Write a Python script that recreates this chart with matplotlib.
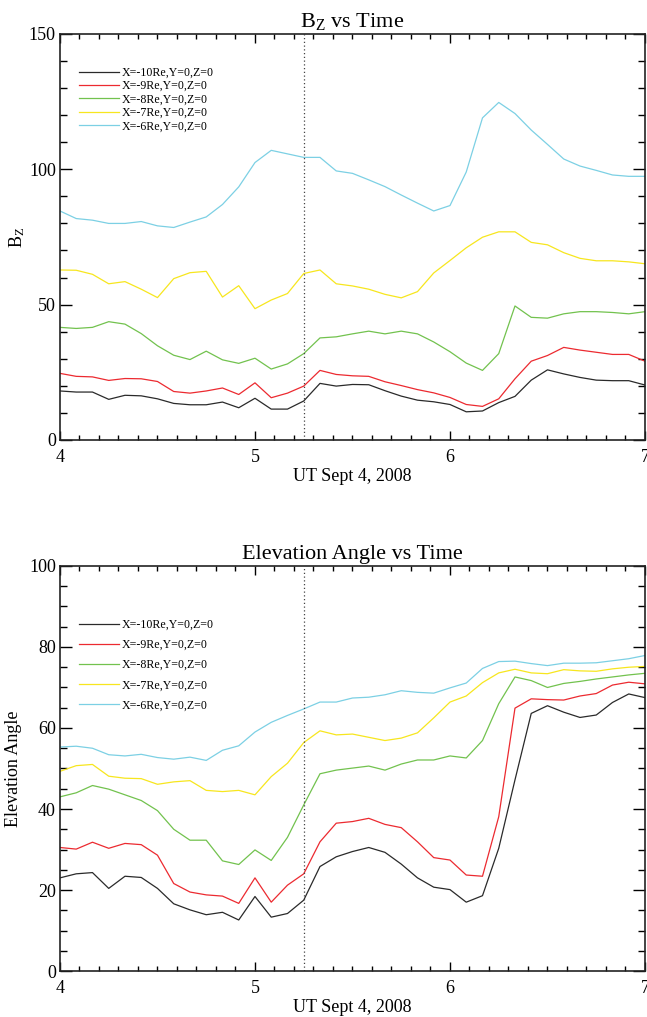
import numpy as np
import matplotlib
matplotlib.use("Agg")
import matplotlib.pyplot as plt
from matplotlib.ticker import MultipleLocator

plt.rcParams['font.family'] = ['Liberation Serif', 'DejaVu Serif']
plt.rcParams['mathtext.fontset'] = 'custom'
plt.rcParams['mathtext.rm'] = 'Liberation Serif'
plt.rcParams['mathtext.it'] = 'Liberation Serif:italic'

# time in hours UT, 5-minute cadence
time = np.arange(37) / 12.0 + 4.0
event_time = 5.25

labels = ["X=-10Re,Y=0,Z=0", "X=-9Re,Y=0,Z=0", "X=-8Re,Y=0,Z=0",
          "X=-7Re,Y=0,Z=0", "X=-6Re,Y=0,Z=0"]
colors = ["#2a2a2a", "#ec2a30", "#72c24e", "#f7e61e", "#7cd0e4"]

bz_x10 = [18.1, 17.7, 17.7, 15.0, 16.5, 16.3, 15.2, 13.5, 13.0, 13.0, 14.0, 11.9,
          15.4, 11.4, 11.4, 14.4, 20.9, 19.9, 20.5, 20.4, 18.2, 16.2, 14.7, 14.1,
          13.1, 10.4, 10.7, 13.8, 16.1, 22.1, 25.9, 24.4, 23.1, 22.1, 21.9, 21.9, 20.3]
bz_x9 = [24.6, 23.5, 23.3, 22.0, 22.7, 22.6, 21.6, 17.9, 17.3, 18.1, 19.2, 16.8,
         21.1, 15.6, 17.3, 19.9, 25.7, 24.2, 23.7, 23.5, 21.5, 20.1, 18.6, 17.4,
         15.7, 13.1, 12.4, 15.2, 22.6, 29.1, 31.2, 34.2, 33.2, 32.4, 31.6, 31.6, 29.1]
bz_x8 = [41.6, 41.2, 41.6, 43.7, 42.8, 39.3, 34.8, 31.3, 29.7, 32.8, 29.6, 28.3,
         30.2, 26.2, 28.1, 31.9, 37.7, 38.1, 39.2, 40.2, 39.2, 40.2, 39.2, 36.2,
         32.6, 28.4, 25.7, 31.9, 49.5, 45.3, 45.0, 46.6, 47.4, 47.4, 47.1, 46.6, 47.4]
bz_x7 = [62.8, 62.7, 61.2, 57.7, 58.5, 55.7, 52.6, 59.6, 61.8, 62.3, 52.8, 57.0,
         48.5, 51.7, 54.1, 61.5, 62.8, 57.7, 56.9, 55.7, 53.8, 52.5, 54.8, 61.7,
         66.3, 71.0, 74.9, 76.9, 76.9, 73.0, 72.1, 69.2, 67.1, 66.2, 66.2, 65.8, 65.1]
bz_x6 = [84.6, 81.8, 81.2, 80.0, 80.0, 80.7, 79.1, 78.5, 80.5, 82.4, 87.0, 93.5,
         102.5, 107.0, 105.7, 104.4, 104.4, 99.4, 98.5, 96.1, 93.6, 90.5, 87.5, 84.6,
         86.6, 99.0, 119.0, 124.7, 120.6, 114.5, 109.2, 103.8, 101.2, 99.6, 97.9, 97.4, 97.4]

el_x10 = [23.0, 24.0, 24.3, 20.4, 23.4, 23.1, 20.4, 16.6, 15.1, 13.9, 14.5, 12.6,
          18.4, 13.3, 14.2, 17.5, 25.8, 28.2, 29.5, 30.5, 29.3, 26.4, 23.0, 20.7,
          20.1, 17.0, 18.6, 30.3, 47.2, 63.6, 65.5, 63.9, 62.6, 63.2, 66.3, 68.4, 67.5]
el_x9 = [30.5, 30.1, 31.8, 30.3, 31.5, 31.2, 28.6, 21.6, 19.5, 18.8, 18.5, 16.7,
         23.0, 17.0, 21.2, 24.0, 31.9, 36.5, 36.9, 37.7, 36.2, 35.4, 31.9, 28.0,
         27.4, 23.7, 23.4, 38.1, 64.9, 67.2, 67.0, 66.9, 67.9, 68.5, 70.6, 71.3, 70.9]
el_x8 = [43.0, 44.0, 45.8, 44.9, 43.5, 42.1, 39.6, 35.0, 32.3, 32.3, 27.2, 26.3,
         29.9, 27.3, 33.0, 41.0, 48.7, 49.6, 50.1, 50.6, 49.6, 51.1, 52.1, 52.1,
         53.1, 52.6, 56.9, 66.0, 72.6, 71.7, 70.0, 71.0, 71.5, 72.1, 72.6, 73.1, 73.5]
el_x7 = [49.3, 50.7, 51.0, 48.1, 47.6, 47.5, 46.1, 46.7, 47.0, 44.6, 44.3, 44.6,
         43.5, 48.0, 51.3, 56.4, 59.3, 58.3, 58.5, 57.7, 56.9, 57.5, 58.8, 62.5,
         66.4, 67.9, 71.2, 73.6, 74.5, 73.6, 73.4, 74.4, 74.1, 74.0, 74.6, 75.0, 75.2]
el_x6 = [55.3, 55.5, 55.0, 53.4, 53.1, 53.5, 52.7, 52.3, 52.8, 52.0, 54.5, 55.6,
         59.0, 61.4, 63.1, 64.7, 66.4, 66.4, 67.4, 67.6, 68.2, 69.2, 68.8, 68.6,
         69.9, 71.1, 74.7, 76.4, 76.5, 75.9, 75.4, 76.0, 76.0, 76.1, 76.6, 77.1, 77.9]

bz_series = [bz_x10, bz_x9, bz_x8, bz_x7, bz_x6]
el_series = [el_x10, el_x9, el_x8, el_x7, el_x6]

fig = plt.figure(figsize=(6.47, 10.17), dpi=100)
ax1 = fig.add_axes([0.0927, 0.5674, 0.9042, 0.3992])
ax2 = fig.add_axes([0.0927, 0.0452, 0.9042, 0.3983])


def style(ax, ymax, ymaj, ymin):
    ax.set_xlim(4, 7)
    ax.set_ylim(0, ymax)
    ax.xaxis.set_major_locator(MultipleLocator(1))
    ax.xaxis.set_minor_locator(MultipleLocator(0.1))
    ax.yaxis.set_major_locator(MultipleLocator(ymaj))
    ax.yaxis.set_minor_locator(MultipleLocator(ymin))
    ax.tick_params(axis='both', which='both', direction='in', top=True, right=True,
                   labelsize=13, colors='black', width=1.0)
    ax.tick_params(axis='x', which='major', length=6.5, pad=6.5)
    ax.tick_params(axis='x', which='minor', length=3.6)
    ax.tick_params(axis='y', which='major', length=8.4, pad=3)
    ax.tick_params(axis='y', which='minor', length=4.8)
    for s in ax.spines.values():
        s.set_linewidth(1.2)
        s.set_color('#222222')
    ax.set_xlabel("UT Sept 4, 2008", fontsize=13, labelpad=1.5)


legend_kw = dict(loc='upper left', frameon=False, fontsize=8.6, handlelength=3.3,
                 handletextpad=0.25, borderaxespad=0)

for vals, c, lab in zip(bz_series, colors, labels):
    ax1.plot(time, vals, color=c, lw=0.9, label=lab)
ax1.axvline(event_time, color='#444444', lw=0.9, ls=(0, (1, 2)))
style(ax1, 150, 50, 10)
ax1.set_title(r"B$_\mathrm{Z}$ vs Time", fontsize=16, pad=5)
ax1.set_ylabel(r"B$_\mathrm{Z}$", fontsize=13)
ax1.yaxis.set_label_coords(-0.056, 0.5)
ax1.legend(bbox_to_anchor=(0.025, 0.931), labelspacing=0.115, **legend_kw)

for vals, c, lab in zip(el_series, colors, labels):
    ax2.plot(time, vals, color=c, lw=0.9, label=lab)
ax2.axvline(event_time, color='#444444', lw=0.9, ls=(0, (1, 2)))
style(ax2, 100, 20, 5)
ax2.set_title("Elevation Angle vs Time", fontsize=16, pad=5)
ax2.set_ylabel("Elevation Angle", fontsize=13)
ax2.yaxis.set_label_coords(-0.065, 0.5)
ax2.legend(bbox_to_anchor=(0.025, 0.881), labelspacing=0.68, **legend_kw)

fig.savefig("out.png", dpi=100)
